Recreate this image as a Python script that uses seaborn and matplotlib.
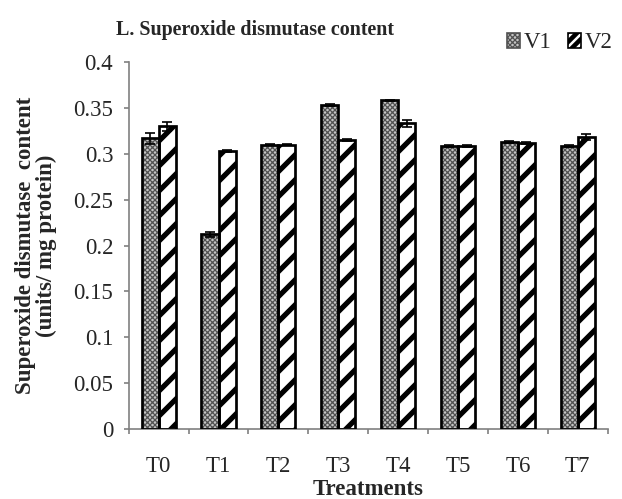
import numpy as np
import pandas as pd
import matplotlib
matplotlib.use("Agg")
import matplotlib.pyplot as plt
from matplotlib.patches import Patch, Rectangle
import seaborn as sns

treatments = ["T0", "T1", "T2", "T3", "T4", "T5", "T6", "T7"]
v1 = [0.317, 0.212, 0.310, 0.353, 0.358, 0.308, 0.313, 0.308]
v2 = [0.330, 0.303, 0.310, 0.315, 0.333, 0.308, 0.312, 0.318]
v1_err = [0.006, 0.003, 0.001, 0.001, 0.001, 0.001, 0.001, 0.001]
v2_err = [0.005, 0.001, 0.001, 0.001, 0.004, 0.001, 0.001, 0.003]

df = pd.DataFrame({
    "treatment": treatments * 2,
    "value": v1 + v2,
    "variety": ["V1"] * len(treatments) + ["V2"] * len(treatments),
})

sns.set_style("white")
plt.rcParams["font.family"] = ["Liberation Serif", "DejaVu Serif"]
plt.rcParams["hatch.linewidth"] = 2.5

fig = plt.figure(figsize=(622 / 150, 499 / 150), dpi=150)
ax = fig.add_axes([0.207, 0.140, 0.770, 0.736])

sns.barplot(data=df, x="treatment", y="value", hue="variety", order=treatments,
            palette={"V1": "#c4c4c4", "V2": "white"}, width=0.57, errorbar=None,
            legend=False, ax=ax, saturation=1)

# (hatch colour, hatch, hatch linewidth) per variety
styles = [("#505050", "xxxxxxxxxx", 0.6), ("black", "//", 2.5)]
errs = [v1_err, v2_err]
bar_conts = list(ax.containers)
for i, cont in enumerate(bar_conts):
    hcol, hatch, hlw = styles[i]
    xs, ys = [], []
    for p in cont.patches:
        p.set_hatch(hatch)
        p.set_edgecolor(hcol)
        p.set_linewidth(0)
        if hasattr(p, "set_hatch_linewidth"):
            p.set_hatch_linewidth(hlw)
        ax.add_patch(Rectangle(p.get_xy(), p.get_width(), p.get_height(),
                               fill=False, edgecolor="black", linewidth=1.3, zorder=3))
        xs.append(p.get_x() + p.get_width() / 2)
        ys.append(p.get_height())
    ax.errorbar(xs, ys, yerr=errs[i], fmt="none", ecolor="black", elinewidth=0.8,
                capsize=2.5, capthick=0.8, zorder=4)

ax.set_ylim(0, 0.4)
ax.set_xlim(-0.5, len(treatments) - 0.5)
ax.set_yticks(np.arange(0, 0.401, 0.05))
ax.set_yticklabels(["0", "0.05", "0.1", "0.15", "0.2", "0.25", "0.3", "0.35", "0.4"])
ax.set_xticks(np.arange(len(treatments)))
ax.set_xticklabels(treatments)
ax.tick_params(axis="x", length=0, labelsize=11, pad=13)
ax.set_xticks(np.arange(-0.5, len(treatments)), minor=True)
ax.tick_params(axis="x", which="minor", length=2.5, color="#808080", width=0.8, direction="out")
ax.tick_params(axis="y", length=2.5, color="#808080", width=0.8, direction="out",
               labelsize=11, pad=5)
ax.xaxis.set_tick_params(which="minor", bottom=True)
ax.yaxis.set_tick_params(left=True)

for side in ["top", "right"]:
    ax.spines[side].set_visible(False)
for side in ["left", "bottom"]:
    ax.spines[side].set_color("#808080")
    ax.spines[side].set_linewidth(0.8)

ax.set_xlabel("Treatments", fontsize=11, fontweight="bold", labelpad=1)
ax.set_ylabel("Superoxide dismutase  content\n(units/ mg protein)", fontsize=11,
              fontweight="bold", labelpad=8, linespacing=0.95)
fig.text(0.41, 0.94, "L. Superoxide dismutase content", ha="center", va="center",
         fontsize=9.6, fontweight="bold")

handles = [Patch(facecolor="#c4c4c4", edgecolor="#505050", hatch="xxxxxxxxxx", label="V1"),
           Patch(facecolor="white", edgecolor="black", hatch="/////", label="V2")]
leg = fig.legend(handles=handles, loc="center right", bbox_to_anchor=(1.007, 0.914), ncol=2,
                 frameon=False, fontsize=11, handlelength=0.6, handleheight=0.6,
                 handletextpad=0.15, columnspacing=0.7, borderpad=0.1)
for lp, (hcol, hatch, hlw) in zip(leg.get_patches(), styles):
    if hasattr(lp, "set_hatch_linewidth"):
        lp.set_hatch_linewidth(hlw if hlw < 1 else 2.2)
    lp.set_linewidth(0.8)

fig.savefig("out.png", dpi=150)
